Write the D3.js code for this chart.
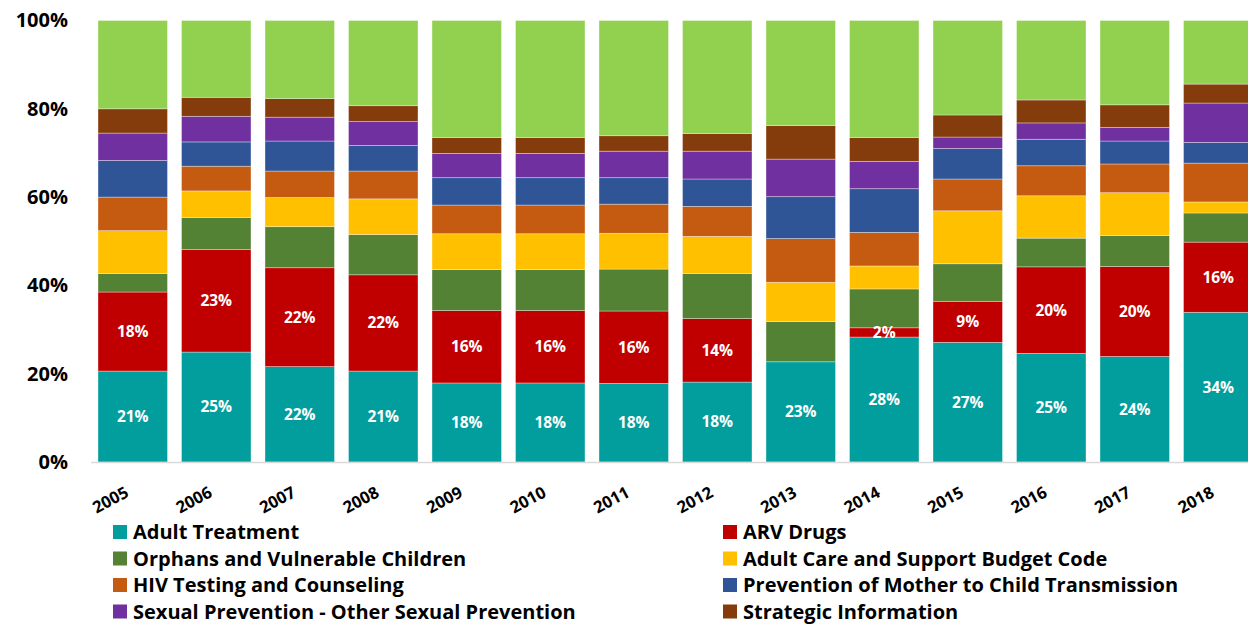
<!DOCTYPE html>
<html>
<head>
<meta charset="utf-8">
<title>Stacked budget share by year</title>
<style>
  html, body { margin: 0; padding: 0; background: #fff; }
  svg { display: block; font-family: 'Open Sans', sans-serif; font-weight: 700; }
</style>
</head>
<body>
<svg id="chart" width="1248" height="624"></svg>
<script src="https://cdnjs.cloudflare.com/ajax/libs/d3/7.8.5/d3.min.js"></script>
<script>
// data (% of yearly total)
var years = ['2005','2006','2007','2008','2009','2010','2011','2012','2013','2014','2015','2016','2017','2018'];
var seriesNames = ['Adult Treatment', 'ARV Drugs', 'Orphans and Vulnerable Children',
  'Adult Care and Support Budget Code', 'HIV Testing and Counseling',
  'Prevention of Mother to Child Transmission', 'Sexual Prevention - Other Sexual Prevention',
  'Strategic Information', 'Other'];
var adultTreatment = [20.6, 24.9, 21.6, 20.6, 17.9, 17.9, 17.8, 18.1, 22.7, 28.3, 27.1, 24.6, 23.9, 33.9];
var arvDrugs       = [17.9, 23.2, 22.4, 21.8, 16.4, 16.4, 16.4, 14.4, 0,    2.1,  9.3,  19.6, 20.4, 15.9];
var ovc            = [4.2,  7.3,  9.3,  9.1,  9.3,  9.3,  9.5,  10.2, 9.1,  8.8,  8.5,  6.5,  7.0,  6.6];
var adultCare      = [9.7,  6.0,  6.6,  8.1,  8.1,  8.1,  8.1,  8.4,  8.9,  5.2,  12.0, 9.6,  9.7,  2.5];
var hivTesting     = [7.6,  5.6,  6.0,  6.3,  6.5,  6.5,  6.6,  6.8,  9.9,  7.6,  7.2,  6.8,  6.5,  8.8];
var pmtct          = [8.3,  5.5,  6.8,  5.8,  6.2,  6.2,  6.0,  6.2,  9.5,  9.9,  6.9,  6.0,  5.2,  4.7];
var sexualPrev     = [6.2,  5.8,  5.4,  5.4,  5.5,  5.5,  6.0,  6.3,  8.5,  6.2,  2.6,  3.7,  3.1,  8.9];
var strategicInfo  = [5.5,  4.3,  4.2,  3.6,  3.6,  3.6,  3.5,  4.0,  7.6,  5.4,  5.0,  5.2,  5.1,  4.3];
var other          = [20.0, 17.4, 17.7, 19.3, 26.5, 26.5, 26.1, 25.6, 23.8, 26.5, 21.4, 18.0, 19.1, 14.4];
var yTicks = [0, 0.2, 0.4, 0.6, 0.8, 1];

var colors = ['#029d9d', '#c00000', '#548235', '#ffc000', '#c55a11', '#2f5597', '#7030a0', '#843c0c', '#92d050'];
var allSeries = [adultTreatment, arvDrugs, ovc, adultCare, hivTesting, pmtct, sexualPrev, strategicInfo, other];

var rows = years.map(function(y, i) {
  var r = { year: y };
  seriesNames.forEach(function(n, k) { r[n] = allSeries[k][i]; });
  return r;
});

var svg = d3.select('#chart');
var margin = { left: 91, top: 20.5, bottom: 462 };

var x = d3.scaleBand().domain(years).range([91, 1260]).paddingInner(0.168).paddingOuter(0.084);
var y = d3.scaleLinear().domain([0, 1]).range([margin.bottom, margin.top]);

var stack = d3.stack().keys(seriesNames).offset(d3.stackOffsetExpand);
var layers = stack(rows);

var g = svg.append('g');
g.selectAll('g.layer')
  .data(layers)
  .join('g')
    .attr('class', 'layer')
    .attr('fill', function(d, i) { return colors[i]; })
  .selectAll('rect')
  .data(function(d) { return d; })
  .join('rect')
    .attr('x', function(d) { return x(d.data.year); })
    .attr('y', function(d) { return y(d[1]); })
    .attr('width', x.bandwidth())
    .attr('height', function(d) { return Math.max(0, y(d[0]) - y(d[1])); })
    .attr('stroke', 'rgba(255,255,255,0.45)')
    .attr('stroke-width', 0.75);

// labels on the two bottom series only
layers.slice(0, 2).forEach(function(layer) {
  g.append('g').selectAll('text')
    .data(layer.filter(function(d) { return d.data[layer.key] > 0; }))
    .join('text')
      .attr('x', function(d) { return x(d.data.year) + x.bandwidth() / 2; })
      .attr('y', function(d) { return (y(d[0]) + y(d[1])) / 2; })
      .attr('dy', '0.35em')
      .attr('text-anchor', 'middle')
      .attr('fill', '#fff')
      .attr('font-size', 15.5)
      .text(function(d) { return Math.round(d.data[layer.key]) + '%'; });
});

// baseline
svg.append('line')
  .attr('x1', 91).attr('x2', 1248)
  .attr('y1', margin.bottom + 0.5).attr('y2', margin.bottom + 0.5)
  .attr('stroke', '#d9d9d9').attr('stroke-width', 1.5);

// y axis
var yAxis = svg.append('g')
  .attr('transform', 'translate(68,0)')
  .call(d3.axisLeft(y).tickValues(yTicks).tickFormat(d3.format('.0%')).tickSize(0).tickPadding(0));
yAxis.select('.domain').remove();
yAxis.selectAll('text').attr('font-size', 20).attr('font-family', "'Open Sans', sans-serif").attr('font-weight', 700).attr('fill', '#000');

// x axis
var xAxis = svg.append('g')
  .attr('transform', 'translate(0,' + margin.bottom + ')')
  .call(d3.axisBottom(x).tickSize(0).tickPadding(0));
xAxis.select('.domain').remove();
xAxis.selectAll('text')
  .attr('font-size', 16.5).attr('font-family', "'Open Sans', sans-serif").attr('font-weight', 700).attr('fill', '#000')
  .attr('text-anchor', 'end')
  .attr('dy', 0)
  .attr('transform', 'translate(-3,34) rotate(-28)');

// legend
var legend = svg.append('g');
var legendItems = legend.selectAll('g')
  .data(seriesNames.slice(0, 8))
  .join('g')
    .attr('transform', function(d, i) {
      return 'translate(' + (i % 2 === 0 ? 113 : 723) + ',' + (532 + Math.floor(i / 2) * 26.5) + ')';
    });
legendItems.append('rect')
  .attr('x', 0).attr('y', -7).attr('width', 14).attr('height', 14)
  .attr('fill', function(d, i) { return colors[i]; });
legendItems.append('text')
  .attr('x', 20).attr('dy', '0.36em')
  .attr('font-size', 20)
  .attr('fill', '#000')
  .text(function(d) { return d; });
</script>
</body>
</html>
